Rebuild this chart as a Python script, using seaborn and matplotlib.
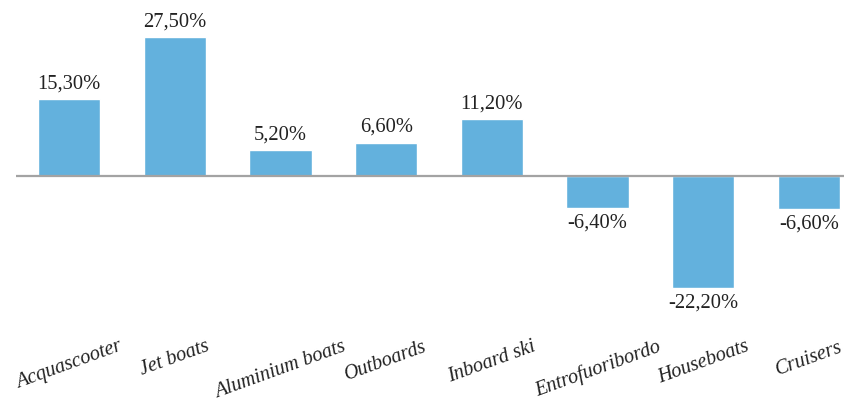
import matplotlib
matplotlib.use("Agg")
import matplotlib.pyplot as plt
import seaborn as sns
import pandas as pd

categories = ["Acquascooter", "Jet boats", "Aluminium boats", "Outboards",
              "Inboard ski", "Entrofuoribordo", "Houseboats", "Cruisers"]
values = [15.3, 27.5, 5.2, 6.6, 11.2, -6.4, -22.2, -6.6]

sns.set_theme(style="white")
plt.rcParams['font.family'] = ['Liberation Serif', 'DejaVu Serif']

df = pd.DataFrame({"cat": categories, "val": values})

fig = plt.figure(figsize=(8.45, 4.03), dpi=100)
ax = fig.add_axes([16.2 / 845, (403 - 300) / 403, 845.6 / 845, 300 / 403])

sns.barplot(data=df, x="cat", y="val", color="#63B1DD", saturation=1,
            width=0.59, ax=ax)

ax.set_xlim(-0.5, 7.5)
ax.set_ylim(-24.6, 34.85)
ax.axhline(0, color="#A3A3A3", lw=1.6, zorder=3)

for s in ax.spines.values():
    s.set_visible(False)
ax.set_yticks([])
ax.set_xlabel("")
ax.set_ylabel("")

labels = [f"{v:.2f}".replace(".", ",") + "%" for v in values]
for c in ax.containers:
    ax.bar_label(c, labels=labels, padding=4, fontsize=14.8, color="#222222")

ax.tick_params(axis="x", length=0, pad=0)
ax.set_xticks(range(len(categories)))
ax.set_xticklabels(categories, rotation=20, ha="center", va="top",
                   fontsize=14.6, style="italic", color="#222222")
for t in ax.get_xticklabels():
    t.set_y(-0.125)

fig.savefig("out.png", dpi=100)
